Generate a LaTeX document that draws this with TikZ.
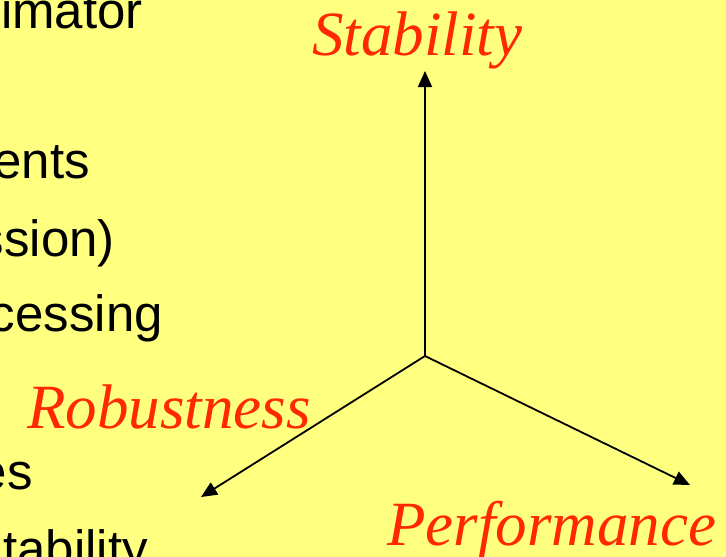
\documentclass[tikz,border=0pt]{standalone}
\usepackage{fontspec}
\setmainfont{Liberation Serif}
\newfontfamily\bodysans{Liberation Sans}
\usetikzlibrary{arrows.meta}
\definecolor{bgyellow}{RGB}{255,255,128}
\definecolor{axisred}{RGB}{255,40,0}
\tikzset{
  axis/.style={line width=1.8pt,-{Triangle[length=16pt,width=14pt]}},
  axislabel/.style={text=axisred,font=\fontsize{63}{63}\selectfont\itshape,inner sep=0pt},
  bodytext/.style={font=\bodysans\fontsize{51}{51}\selectfont,inner sep=0pt,anchor=base east}
}
\begin{document}
\begin{tikzpicture}[x=1pt,y=-1pt]
\fill[bgyellow] (0,0) rectangle (726,557);
\useasboundingbox (0,0) rectangle (726,557);
% partly hidden text on the left
\node[bodytext] (t1) at (143,28) {imator};
\node[bodytext] (t2) at (90,178) {ents};
\node[bodytext] (t3) at (115,256) {ssion)};
\node[bodytext] (t4) at (163,331) {cessing};
\node[bodytext] (t5) at (33,489) {es};
\node[bodytext] (t6) at (148,566) {tability};
% axes
\coordinate (O) at (425,356);
\coordinate (up) at (425,71);
\coordinate (left) at (201,497);
\coordinate (right) at (690,485);
\draw[axis] (O) -- (up);
\draw[axis] (O) -- (left);
\draw[axis] (O) -- (right);
% labels
\node[axislabel,anchor=base west] (stab) at (312,55) {Stability};
\node[axislabel,anchor=base west] (rob) at (27,428) {Robustness};
\node[axislabel,anchor=base west] (perf) at (387,545) {Performance};
\end{tikzpicture}
\end{document}
